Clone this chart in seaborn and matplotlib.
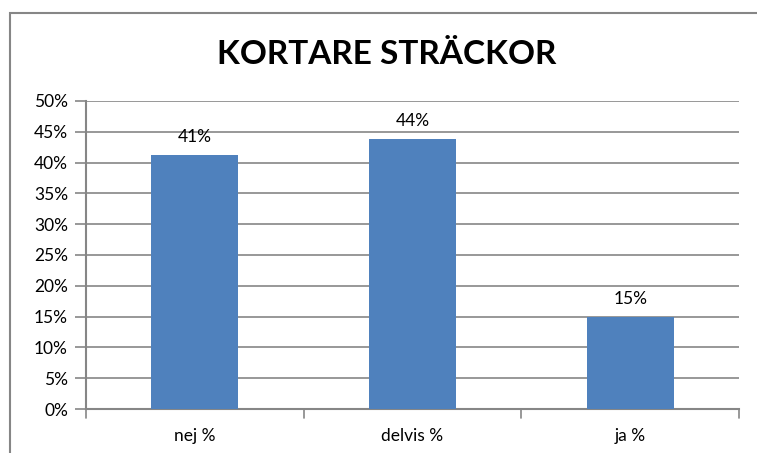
import matplotlib.pyplot as plt
import seaborn as sns
import pandas as pd
from matplotlib.patches import Rectangle

categories = ["nej %", "delvis %", "ja %"]
values = [41.2, 43.9, 14.9]
value_labels = ["41%", "44%", "15%"]
y_ticks = [0, 5, 10, 15, 20, 25, 30, 35, 40, 45, 50]

sns.set_style("white", {"text.color": "black", "xtick.color": "black",
                        "ytick.color": "black"})
plt.rcParams['font.family'] = ['Lato', 'DejaVu Sans']

W, H = 757, 453
fig = plt.figure(figsize=(W / 100, H / 100), dpi=100)
ax = fig.add_axes([86 / W, 1 - 409 / H, (739 - 86) / W, (409 - 101) / H])

df = pd.DataFrame({"cat": categories, "val": values})
sns.barplot(data=df, x="cat", y="val", color="#4F81BD", saturation=1,
            width=0.4, linewidth=0, ax=ax, zorder=3)

ax.set_ylim(0, 50)
ax.set_xlim(-0.5, 2.5)
ax.set_yticks(y_ticks)
ax.set_yticklabels([f"{t}%" for t in y_ticks], fontsize=12.5)
ax.yaxis.grid(True, color="#868686", linewidth=1.2, zorder=0)
ax.set_axisbelow(True)
ax.set_xlabel("")
ax.set_ylabel("")
ax.tick_params(axis="x", labelsize=12.5, length=0, pad=14, labelcolor="black")
ax.tick_params(axis="y", length=8, width=1.2, color="#868686", left=True,
               pad=5, labelcolor="black")

for s in ["top", "right"]:
    ax.spines[s].set_visible(False)
for s in ["left", "bottom"]:
    ax.spines[s].set_color("#868686")
    ax.spines[s].set_linewidth(1.5)

# category boundary ticks on the x axis
for xb in [-0.5, 0.5, 1.5, 2.5]:
    ax.plot([xb, xb], [0, -1.4], color="#868686", lw=1.2, clip_on=False)

for i, (v, lab) in enumerate(zip(values, value_labels)):
    ax.text(i, v + 1.6, lab, ha="center", va="bottom", fontsize=12.5,
            color="black")

fig.text(387 / W, 1 - 55 / H, "KORTARE STRÄCKOR", ha="center", va="center",
         fontsize=24, fontweight="bold", color="black")

fig.patches.append(Rectangle((10 / W, -0.1), 1.2, 1.1 - 13 / H,
                             transform=fig.transFigure, fill=False,
                             edgecolor="#868686", linewidth=1.5))

fig.savefig("out.png", dpi=100)
